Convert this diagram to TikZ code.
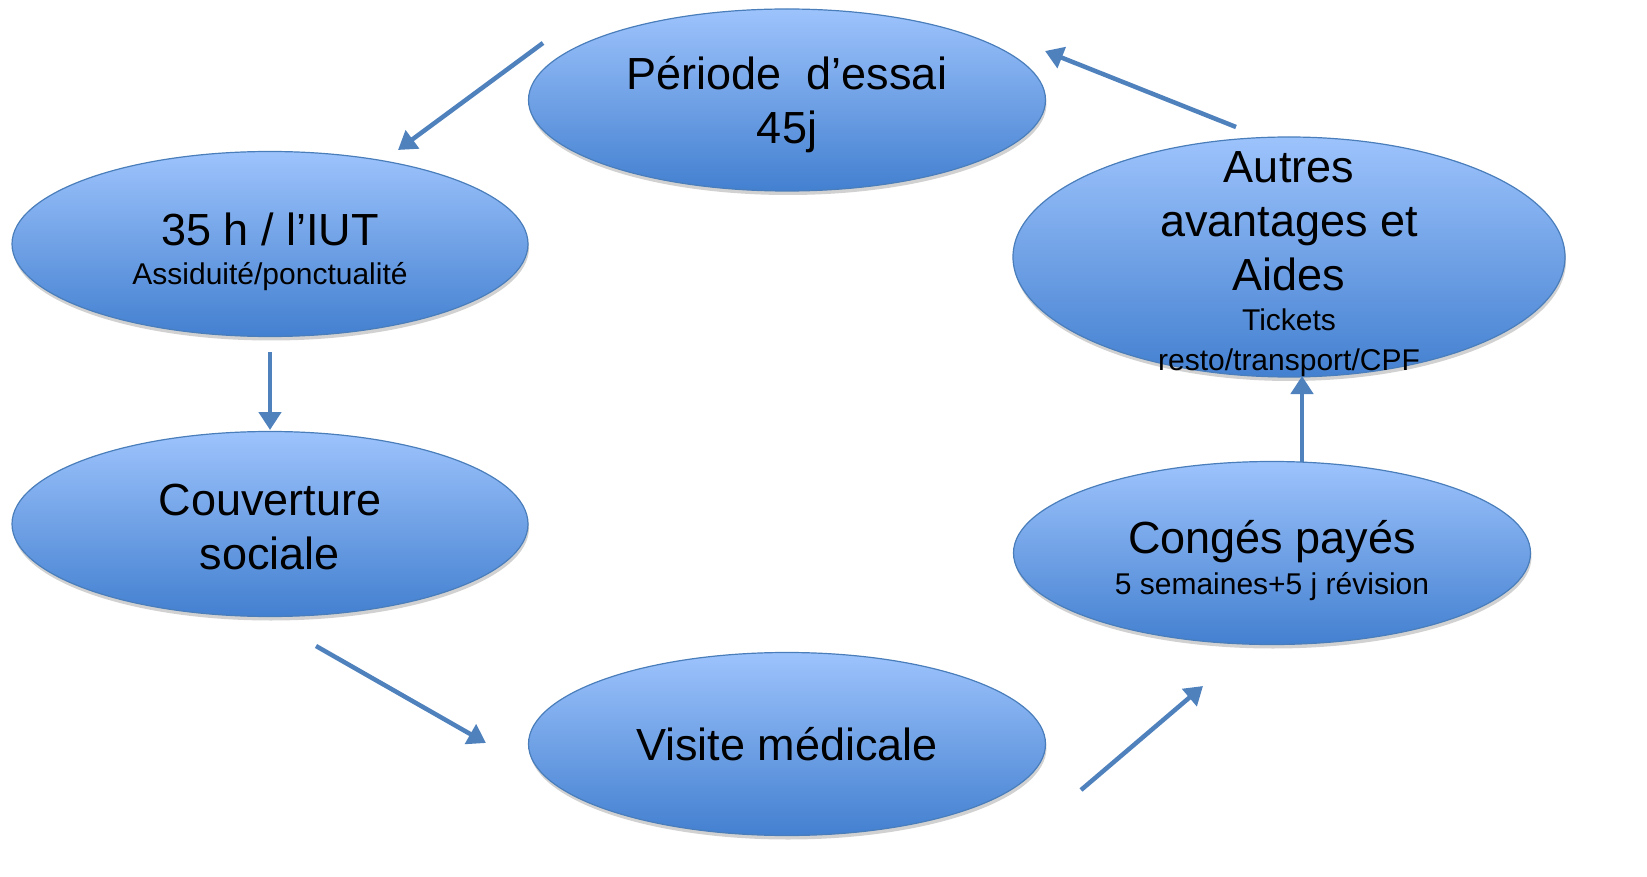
\documentclass[tikz,border=0pt]{standalone}
\usepackage{fontspec}
\setmainfont{Liberation Sans}
\usetikzlibrary{shapes.geometric,shadows,arrows.meta}
\definecolor{topblue}{HTML}{9DC3FC}
\definecolor{botblue}{HTML}{4380D0}
\definecolor{edgeblue}{HTML}{4A7EBB}
\definecolor{arrowblue}{HTML}{4F81BD}
\tikzset{
  bubble/.style={ellipse, draw=edgeblue, line width=1.2pt, top color=topblue, bottom color=botblue,
    inner sep=0pt,
    drop shadow={shadow xshift=1pt, shadow yshift=-4pt, opacity=0.18, fill=black}},
  txt/.style={align=center, text=black, inner sep=0pt, font=\fontsize{45}{54}\selectfont},
  flow/.style={draw=arrowblue, line width=4.5pt, -{Triangle[length=18pt,width=22pt]}}
}
\newcommand{\sm}[1]{{\fontsize{30}{36}\selectfont #1}}
\begin{document}
\begin{tikzpicture}[x=1pt,y=-1pt]
\useasboundingbox (0,0) rectangle (1647,877);
\node[bubble, minimum width=517pt, minimum height=182pt] (essai) at (787,100) {};
\node[bubble, minimum width=516pt, minimum height=185pt] (iut) at (270,244) {};
\node[bubble, minimum width=516pt, minimum height=185pt] (couv) at (270,524) {};
\node[bubble, minimum width=517pt, minimum height=183pt] (visite) at (787,744) {};
\node[bubble, minimum width=517pt, minimum height=183pt] (conges) at (1272,553) {};
\node[bubble, minimum width=552pt, minimum height=240pt] (autres) at (1289,257) {};
\node[txt] (essaiT) at (787,105) {Période\ \ d’essai\\45j};
\node[txt] (iutT) at (270,252) {35 h / l’IUT\\[-15pt]\sm{Assiduité/ponctualité}};
\node[txt] (couvT) at (270,527) {Couverture\\sociale};
\node[txt] (visiteT) at (787,744) {Visite médicale};
\node[txt] (congesT) at (1272,561) {Congés payés\\[-13pt]\sm{5 semaines+5 j révision}};
\node[txt] (autresT) at (1289,264) {Autres\\avantages et\\Aides\\[-14pt]\sm{Tickets}\\[-14pt]\sm{resto/transport/CPF}};
\coordinate (a1s) at (543,43);  \coordinate (a1e) at (398,150);
\coordinate (a2s) at (270,352); \coordinate (a2e) at (270,430);
\coordinate (a3s) at (316,646); \coordinate (a3e) at (486,743);
\coordinate (a4s) at (1081,790);\coordinate (a4e) at (1203,686);
\coordinate (a5s) at (1302,462);\coordinate (a5e) at (1302,376);
\coordinate (a6s) at (1236,127);\coordinate (a6e) at (1045,51);
\draw[flow] (a1s) -- (a1e);
\draw[flow] (a2s) -- (a2e);
\draw[flow] (a3s) -- (a3e);
\draw[flow] (a4s) -- (a4e);
\draw[flow] (a5s) -- (a5e);
\draw[flow] (a6s) -- (a6e);
\end{tikzpicture}
\end{document}
